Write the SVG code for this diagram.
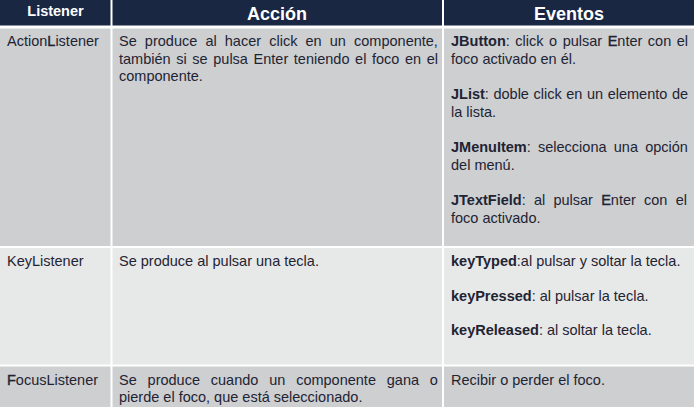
<svg xmlns="http://www.w3.org/2000/svg" width="694" height="407" viewBox="0 0 694 407">
<style>
.hd{fill:#1a2743}
.ra{fill:#cdcfd1}
.rb{fill:#e7e8e8}
text{font-family:"Liberation Sans",Arial,sans-serif;font-size:14.5px;fill:#1f2433}
.ht{fill:#ffffff;font-weight:bold;text-anchor:middle}
.b{font-weight:bold}
.sb{stroke:#1f2433;stroke-width:0.4px}
</style>
<rect x="0" y="0" width="694" height="407" fill="#ffffff"/>
<g id="grid">
<rect class="hd" x="0" y="0" width="110.5" height="25.5"/>
<rect class="hd" x="112.5" y="0" width="329.5" height="25.5"/>
<rect class="hd" x="444" y="0" width="250" height="25.5"/>
<rect class="ra" x="0" y="28.5" width="110.5" height="217.5"/>
<rect class="ra" x="112.5" y="28.5" width="329.5" height="217.5"/>
<rect class="ra" x="444" y="28.5" width="250" height="217.5"/>
<rect class="rb" x="0" y="248" width="110.5" height="116.5"/>
<rect class="rb" x="112.5" y="248" width="329.5" height="116.5"/>
<rect class="rb" x="444" y="248" width="250" height="116.5"/>
<rect class="ra" x="0" y="366.5" width="110.5" height="40.5"/>
<rect class="ra" x="112.5" y="366.5" width="329.5" height="40.5"/>
<rect class="ra" x="444" y="366.5" width="250" height="40.5"/>
</g>
<g id="header">
<text class="ht" x="55.5" y="16">Listener</text>
<text class="ht" x="277" y="20" style="font-size:18px">Acción</text>
<text class="ht" x="569" y="20" style="font-size:18px">Eventos</text>
</g>
<g id="action-listener">
<text x="7" y="46">Action<tspan class="sb">L</tspan>istener</text>
<text x="119" y="46" style="word-spacing:4.1px">Se produce al hacer click en un componente,</text>
<text x="119" y="64" style="word-spacing:1.6px">también si se pulsa Enter teniendo el foco en el</text>
<text x="119" y="81">componente.</text>
<text x="451" y="46" style="word-spacing:1.5px"><tspan class="b">JButton</tspan>: click o pulsar <tspan class="sb">E</tspan>nter con el</text>
<text x="451" y="64">foco activado en él.</text>
<text x="451" y="98.5" style="word-spacing:0.55px"><tspan class="b">JList</tspan>: doble click en un elemento de</text>
<text x="451" y="116.5">la lista.</text>
<text x="451" y="152" style="word-spacing:3.2px"><tspan class="b">JMenuItem</tspan>: selecciona una opción</text>
<text x="451" y="169.5">del menú.</text>
<text x="451" y="205" style="word-spacing:4.2px"><tspan class="b">JTextField</tspan>: al pulsar <tspan class="sb">E</tspan>nter con el</text>
<text x="451" y="223">foco activado.</text>
</g>
<g id="key-listener">
<text x="7" y="266">KeyListener</text>
<text x="119" y="266">Se produce al pulsar una tecla.</text>
<text x="451" y="266"><tspan class="b">keyTyped</tspan>:al pulsar y soltar la tecla.</text>
<text x="451" y="300.5"><tspan class="b">keyPressed</tspan>: al pulsar la tecla.</text>
<text x="451" y="334.5"><tspan class="b">keyReleased</tspan>: al soltar la tecla.</text>
</g>
<g id="focus-listener">
<text x="7" y="384.5"><tspan class="sb">F</tspan>ocusListener</text>
<text x="119" y="384.5" style="word-spacing:6.8px">Se produce cuando un componente gana o</text>
<text x="119" y="402">pierde el foco, que está seleccionado.</text>
<text x="451" y="384.5">Recibir o perder el foco.</text>
</g>
</svg>
